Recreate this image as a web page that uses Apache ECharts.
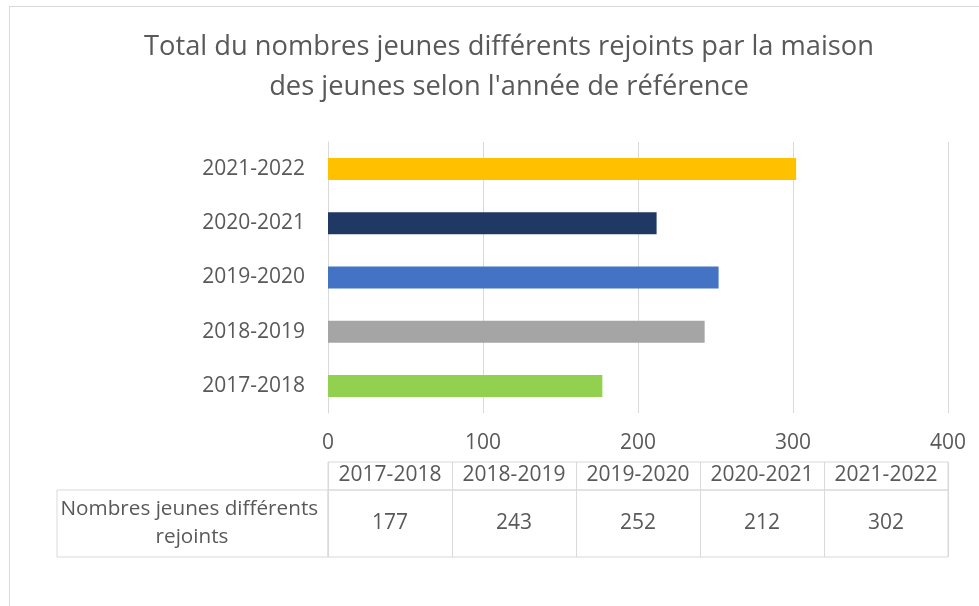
<!DOCTYPE html>
<html>
<head>
<meta charset="utf-8">
<script src="https://cdn.jsdelivr.net/npm/echarts@6/dist/echarts.min.js"></script>
<style>
  html, body { margin: 0; padding: 0; background: #fff; overflow: hidden; }
  #frame { position: absolute; left: 9px; top: 6px; width: 1100px; height: 700px; border: 1px solid #d9d9d9; }
  #chart { position: absolute; left: 0; top: 0; width: 979px; height: 606px; }
</style>
</head>
<body>
<div id="frame"></div>
<div id="chart"></div>
<script>
var titleText = 'Total du nombres jeunes différents rejoints par la maison\ndes jeunes selon l\'année de référence';
var years = ['2017-2018', '2018-2019', '2019-2020', '2020-2021', '2021-2022'];
var youthCounts = [177, 243, 252, 212, 302];
var rowLabel = 'Nombres jeunes différents rejoints';
var barColors = ['#92D050', '#A5A5A5', '#4472C4', '#1F3864', '#FFC000'];

var textColor = '#595959';
var lineColor = '#d9d9d9';
var font = 'Open Sans';

var myChart = echarts.init(document.getElementById('chart'));

var option = {
	textStyle: { fontFamily: font },
	title: {
		text: titleText,
		left: 504,
		top: 22,
		textAlign: 'center',
		textStyle: {
			fontFamily: font,
			fontWeight: 'normal',
			fontSize: 27.3,
			lineHeight: 40,
			color: textColor
		}
	},
	grid: [
		// bar chart
		{ left: 328, top: 142, width: 620, height: 271, show: false },
		// table header row
		{ left: 328, top: 462, width: 620, height: 28, show: true, borderColor: lineColor, borderWidth: 1 },
		// table data row
		{ left: 328, top: 490, width: 620, height: 67, show: true, borderColor: lineColor, borderWidth: 1 },
		// row label cell
		{ left: 57, top: 490, width: 271, height: 67, show: true, borderColor: lineColor, borderWidth: 1 }
	],
	xAxis: [
		{
			gridIndex: 0,
			type: 'value',
			min: 0,
			max: 400,
			interval: 100,
			axisLine: { show: false },
			axisTick: { show: false },
			splitLine: { lineStyle: { color: lineColor, width: 1 } },
			axisLabel: { color: textColor, fontSize: 21, margin: 20, fontFamily: font }
		},
		{
			gridIndex: 1,
			type: 'category',
			data: years,
			axisLine: { show: false },
			axisTick: { show: false },
			axisLabel: { show: false },
			splitLine: { show: true, lineStyle: { color: lineColor } }
		},
		{
			gridIndex: 2,
			type: 'category',
			position: 'top',
			data: years,
			axisLine: { show: false },
			axisTick: { show: false },
			axisLabel: { color: textColor, fontSize: 21, margin: 4, fontFamily: font, interval: 0 },
			splitLine: { show: true, lineStyle: { color: lineColor } }
		},
		{
			gridIndex: 3,
			type: 'value',
			show: false
		}
	],
	yAxis: [
		{
			gridIndex: 0,
			type: 'category',
			data: years,
			axisLine: { show: true, lineStyle: { color: lineColor, width: 1 } },
			axisTick: { show: false },
			axisLabel: { color: textColor, fontSize: 21, margin: 23, fontFamily: font }
		},
		{
			gridIndex: 1,
			type: 'value',
			show: false
		},
		{
			gridIndex: 2,
			type: 'category',
			data: [rowLabel],
			axisLine: { show: false },
			axisTick: { show: false },
			axisLabel: {
				color: textColor,
				fontSize: 20.7,
				lineHeight: 28,
				fontFamily: font,
				align: 'center',
				margin: 136,
				width: 290,
				overflow: 'break'
			}
		},
		{
			gridIndex: 3,
			type: 'value',
			show: false
		}
	],
	series: [
		{
			name: rowLabel,
			type: 'bar',
			xAxisIndex: 0,
			yAxisIndex: 0,
			barWidth: 22,
			data: youthCounts.map(function (v, i) {
				return { value: v, itemStyle: { color: barColors[i] } };
			})
		},
		{
			name: 'table',
			type: 'scatter',
			xAxisIndex: 2,
			yAxisIndex: 2,
			symbolSize: 0,
			silent: true,
			itemStyle: { opacity: 1 },
			data: youthCounts.map(function (v, i) {
				return [years[i], rowLabel, v];
			}),
			label: {
				show: true,
				position: 'inside',
				color: textColor,
				fontSize: 21,
				fontFamily: font,
				formatter: function (p) { return p.value[2]; }
			}
		}
	]
};

myChart.setOption(option);
window.addEventListener('resize', function () {
	myChart.resize();
});
</script>
</body>
</html>
